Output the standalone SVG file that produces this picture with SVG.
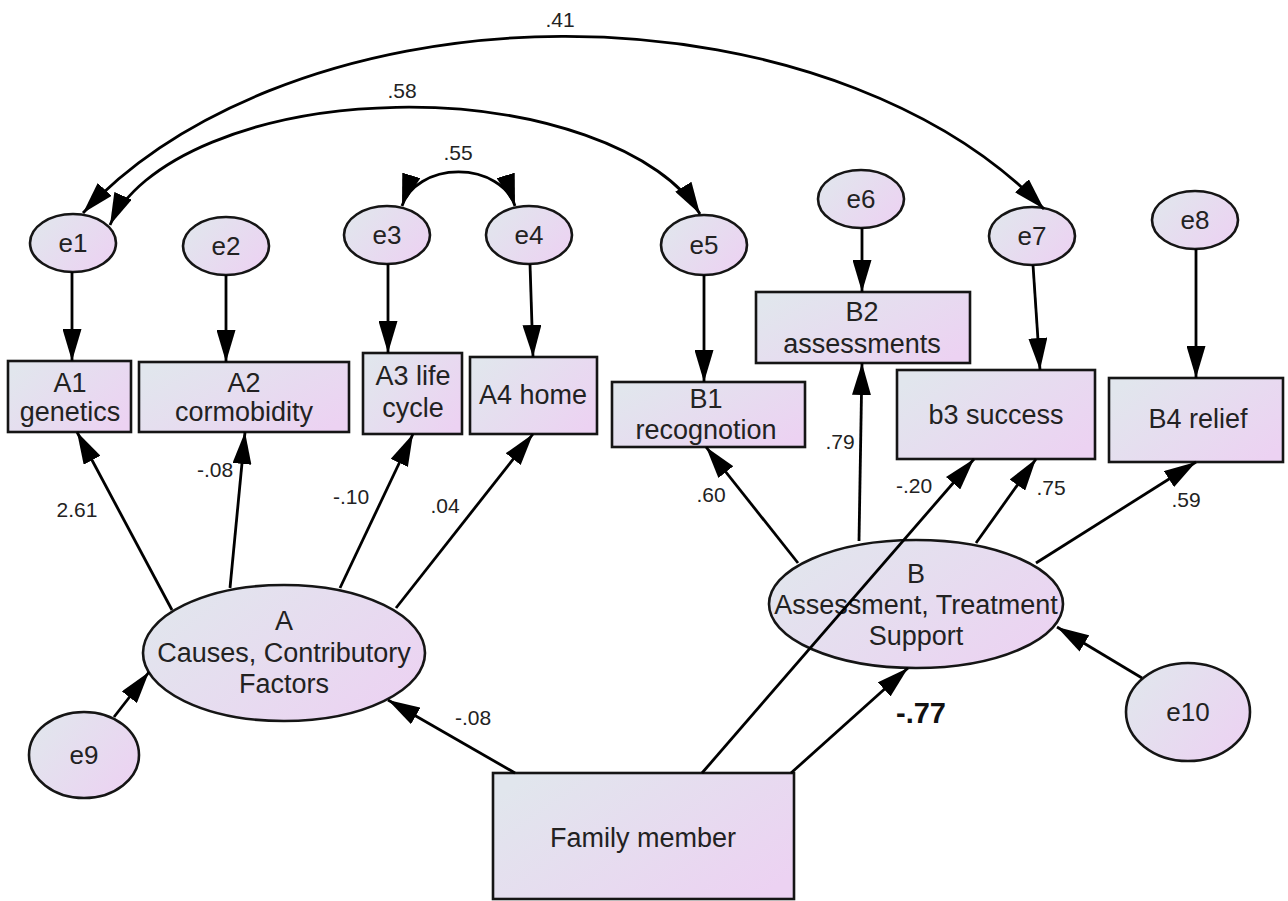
<svg xmlns="http://www.w3.org/2000/svg" width="1288" height="901" viewBox="0 0 1288 901">
  <defs>
    <linearGradient id="fill" x1="0" y1="0.2" x2="1" y2="0.8">
      <stop offset="0" stop-color="#e1e6ed"/>
      <stop offset="1" stop-color="#ecd2f2"/>
    </linearGradient>
    <marker id="ah" viewBox="0 0 32 19" refX="32" refY="9.5" markerWidth="32" markerHeight="19" markerUnits="userSpaceOnUse" orient="auto">
      <path d="M0,0 L32,9.5 L0,19 z" fill="#000"/>
    </marker>
    <marker id="ah2" viewBox="0 0 32 19" refX="32" refY="9.5" markerWidth="32" markerHeight="19" markerUnits="userSpaceOnUse" orient="auto-start-reverse">
      <path d="M0,0 L32,9.5 L0,19 z" fill="#000"/>
    </marker>
    <style>
      .node { fill: url(#fill); stroke: #151515; stroke-width: 2.6; }
      .lbl { font-family: "Liberation Sans", Arial, sans-serif; font-size: 27px; fill: #222; text-anchor: middle; }
      .err { font-family: "Liberation Sans", Arial, sans-serif; font-size: 26px; fill: #222; text-anchor: middle; }
      .num { font-family: "Liberation Sans", Arial, sans-serif; font-size: 21px; fill: #222; text-anchor: middle; }
      .big { font-family: "Liberation Sans", Arial, sans-serif; font-size: 29px; font-weight: bold; fill: #111; text-anchor: middle; }
      .path { fill: none; stroke: #000; stroke-width: 2.8; marker-end: url(#ah); }
      .cov { fill: none; stroke: #000; stroke-width: 2.8; marker-start: url(#ah2); marker-end: url(#ah2); }
    </style>
  </defs>
  <rect width="1288" height="901" fill="#fff"/>

  <!-- error terms -->
  <g id="e1"><ellipse class="node" cx="73" cy="243" rx="43" ry="29"/><text class="err" x="73" y="252">e1</text></g>
  <g id="e2"><ellipse class="node" cx="226" cy="246" rx="43" ry="29"/><text class="err" x="226" y="255">e2</text></g>
  <g id="e3"><ellipse class="node" cx="387" cy="235" rx="43" ry="29"/><text class="err" x="387" y="244">e3</text></g>
  <g id="e4"><ellipse class="node" cx="529" cy="235" rx="43" ry="29"/><text class="err" x="529" y="244">e4</text></g>
  <g id="e5"><ellipse class="node" cx="704" cy="245" rx="43" ry="30"/><text class="err" x="704" y="254">e5</text></g>
  <g id="e6"><ellipse class="node" cx="861" cy="199" rx="43" ry="29"/><text class="err" x="861" y="208">e6</text></g>
  <g id="e7"><ellipse class="node" cx="1032" cy="236" rx="43" ry="29"/><text class="err" x="1032" y="245">e7</text></g>
  <g id="e8"><ellipse class="node" cx="1195" cy="220" rx="43" ry="29"/><text class="err" x="1195" y="229">e8</text></g>
  <g id="e9"><ellipse class="node" cx="84" cy="755" rx="55" ry="43"/><text class="err" x="84" y="764">e9</text></g>
  <g id="e10"><ellipse class="node" cx="1188" cy="712" rx="62" ry="49"/><text class="err" x="1188" y="721">e10</text></g>

  <!-- observed indicators -->
  <g id="A1"><rect class="node" x="8" y="361" width="123" height="71"/><text class="lbl" x="70" y="392">A1</text><text class="lbl" x="70" y="421">genetics</text></g>
  <g id="A2"><rect class="node" x="139" y="362" width="210" height="70"/><text class="lbl" x="244" y="392">A2</text><text class="lbl" x="244" y="421">cormobidity</text></g>
  <g id="A3"><rect class="node" x="363" y="353" width="99" height="81"/><text class="lbl" x="413" y="385">A3 life</text><text class="lbl" x="413" y="417">cycle</text></g>
  <g id="A4"><rect class="node" x="470" y="357" width="127" height="77"/><text class="lbl" x="533" y="404">A4 home</text></g>
  <g id="B1"><rect class="node" x="612" y="382" width="193" height="65"/><text class="lbl" x="706" y="408">B1</text><text class="lbl" x="706" y="439">recognotion</text></g>
  <g id="B2"><rect class="node" x="756" y="292" width="214" height="71"/><text class="lbl" x="862" y="321">B2</text><text class="lbl" x="862" y="353">assessments</text></g>
  <g id="b3"><rect class="node" x="897" y="370" width="198" height="89"/><text class="lbl" x="996" y="424">b3 success</text></g>
  <g id="B4"><rect class="node" x="1109" y="378" width="174" height="84"/><text class="lbl" x="1198" y="428">B4 relief</text></g>

  <!-- latent factors -->
  <g id="A"><ellipse class="node" cx="284" cy="653" rx="141" ry="68"/>
    <text class="lbl" x="284" y="630">A</text>
    <text class="lbl" x="284" y="662">Causes, Contributory</text>
    <text class="lbl" x="284" y="693">Factors</text>
  </g>
  <g id="B"><ellipse class="node" cx="916" cy="604" rx="147" ry="64"/>
    <text class="lbl" x="916" y="583">B</text>
    <text class="lbl" x="916" y="614">Assessment, Treatment</text>
    <text class="lbl" x="916" y="645">Support</text>
  </g>

  <!-- exogenous predictor -->
  <g id="family"><rect class="node" x="493" y="773" width="301" height="126"/><text class="lbl" x="643" y="847">Family member</text></g>

  <!-- paths and covariances -->
  <g id="connectors">
    <path class="cov" d="M83,213 A561 361 0 0 1 1044,209"/>
    <path class="cov" d="M110,225 A305 150 0 0 1 700,214"/>
    <path class="cov" d="M402,206 A58 44 0 0 1 515,206"/>

    <path class="path" d="M72,272 L72,361"/>
    <path class="path" d="M226,275 L226,362"/>
    <path class="path" d="M388,264 L388,353"/>
    <path class="path" d="M530,264 L533,357"/>
    <path class="path" d="M704,275 L704,382"/>
    <path class="path" d="M862,228 L862,292"/>
    <path class="path" d="M1033,265 L1040,370"/>
    <path class="path" d="M1196,249 L1196,378"/>

    <path class="path" d="M172,610 L77,432"/>
    <path class="path" d="M230,588 L245,432"/>
    <path class="path" d="M340,588 L413,434"/>
    <path class="path" d="M396,608 L533,434"/>

    <path class="path" d="M798,563 L706,447"/>
    <path class="path" d="M859,541 L862,363"/>
    <path class="path" d="M976,543 L1036,459"/>
    <path class="path" d="M1036,563 L1196,462"/>

    <path class="path" d="M702,773 L974,459"/>
    <path class="path" d="M791,773 L908,668"/>
    <path class="path" d="M515,773 L388,700"/>
    <path class="path" d="M114,717 L149,672"/>
    <path class="path" d="M1142,678 L1057,627"/>
  </g>

  <!-- estimates -->
  <g id="estimates">
    <text class="num" x="560" y="27">.41</text>
    <text class="num" x="402" y="98">.58</text>
    <text class="num" x="458" y="160">.55</text>
    <text class="num" x="77" y="517">2.61</text>
    <text class="num" x="215" y="477">-.08</text>
    <text class="num" x="351" y="504">-.10</text>
    <text class="num" x="445" y="513">.04</text>
    <text class="num" x="711" y="502">.60</text>
    <text class="num" x="840" y="449">.79</text>
    <text class="num" x="914" y="493">-.20</text>
    <text class="num" x="1051" y="495">.75</text>
    <text class="num" x="1186" y="507">.59</text>
    <text class="num" x="473" y="725">-.08</text>
    <text class="big" x="921" y="723">-.77</text>
  </g>
</svg>
